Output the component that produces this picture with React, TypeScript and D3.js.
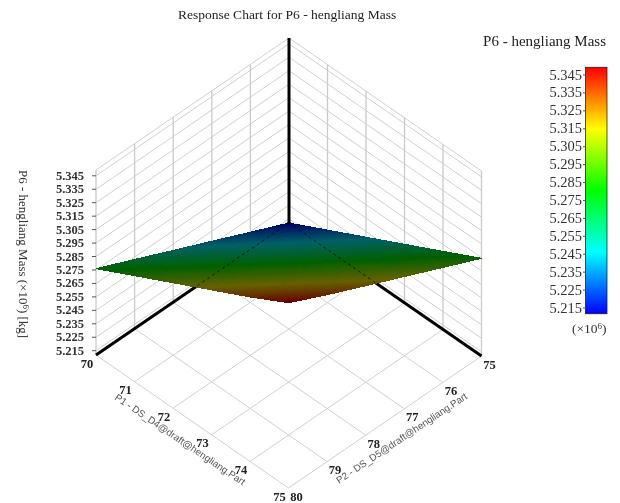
import React, { useEffect, useRef } from 'react'
import * as d3 from 'd3'

const p1Ticks = [70, 71, 72, 73, 74, 75]
const p2Ticks = [75, 76, 77, 78, 79, 80]
const zTicks = [5.215, 5.225, 5.235, 5.245, 5.255, 5.265, 5.275, 5.285, 5.295, 5.305, 5.315, 5.325, 5.335, 5.345]
const zDomain = [5.2118, 5.3493]

// rows = P1 70..75, columns = P2 75..80
const surfaceZ = [
  [5.2118, 5.2246, 5.2375, 5.2503, 5.2632, 5.2760],
  [5.2263, 5.2391, 5.2520, 5.2648, 5.2777, 5.2905],
  [5.2408, 5.2536, 5.2665, 5.2793, 5.2922, 5.3050],
  [5.2553, 5.2681, 5.2810, 5.2938, 5.3067, 5.3195],
  [5.2698, 5.2826, 5.2955, 5.3083, 5.3212, 5.3340],
  [5.2844, 5.2972, 5.3101, 5.3229, 5.3358, 5.3495],
]

const colorStops = [0, 0.25, 0.5, 0.75, 1]
const colorNames = ['#0000ff', '#00ffff', '#00ff00', '#ffff00', '#ff0000']

const titleText = 'Response Chart for P6 - hengliang Mass'
const legendTitle = 'P6 - hengliang Mass'
const p1Label = 'P1 - DS_D4@draft@hengliang.Part'
const p2Label = 'P2 - DS_D5@draft@hengliang.Part'

export default function App() {
  const ref = useRef<SVGSVGElement>(null)

  useEffect(() => {
    const svg = d3.select(ref.current)
    svg.selectAll('*').remove()

    svg.append('defs').append('filter').attr('id', 'soft')
      .attr('filterUnits', 'userSpaceOnUse')
      .attr('x', 0).attr('y', 0).attr('width', 620).attr('height', 503)
      .append('feGaussianBlur').attr('stdDeviation', 0.5)

    const root = svg.append('g').attr('filter', 'url(#soft)')
    const serif = '"Liberation Serif", serif'
    const sans = '"Liberation Sans", sans-serif'

    // Isometric projection
    const originX = 289, originY = 223
    const p1X = d3.scaleLinear().domain([70, 75]).range([0, 192.5])
    const p1Y = d3.scaleLinear().domain([70, 75]).range([0, 133])
    const p2X = d3.scaleLinear().domain([75, 80]).range([0, 193])
    const p2Y = d3.scaleLinear().domain([75, 80]).range([0, 132])
    const zY = d3.scaleLinear().domain(zDomain).range([0, 185])
    const project = (p1: number, p2: number, z: number): [number, number] => [
      originX + p1X(p1) - p2X(p2),
      originY + p1Y(p1) + p2Y(p2) - zY(z),
    ]
    const line = d3.line()

    const [zLo, zHi] = zDomain
    const gridLines: [number, number][][] = []
    const wallVerticals: [number, number][][] = []

    // floor grid
    p1Ticks.forEach(p => gridLines.push([project(p, 75, zLo), project(p, 80, zLo)]))
    p2Ticks.forEach(p => gridLines.push([project(70, p, zLo), project(75, p, zLo)]))
    // left wall (P1 = 70), right wall (P2 = 75)
    p2Ticks.forEach(p => wallVerticals.push([project(70, p, zLo), project(70, p, zHi)]))
    p1Ticks.forEach(p => wallVerticals.push([project(p, 75, zLo), project(p, 75, zHi)]))
    zTicks.concat([zHi]).forEach(z => {
      gridLines.push([project(70, 80, z), project(70, 75, z)])
      gridLines.push([project(75, 75, z), project(70, 75, z)])
    })

    root.append('g').selectAll('path').data(gridLines).join('path')
      .attr('d', d => line(d))
      .attr('fill', 'none')
      .attr('stroke', '#d0d0d0')
      .attr('stroke-width', 1)
    root.append('g').selectAll('path').data(wallVerticals).join('path')
      .attr('d', d => line(d))
      .attr('fill', 'none')
      .attr('stroke', '#cacaca')
      .attr('stroke-width', 1.3)

    // heavy axes, the surface hides their inner part
    const axes: [number, number][][] = [
      [project(70, 75, zLo), project(70, 80, zLo)],
      [project(70, 75, zLo), project(75, 75, zLo)],
    ]
    root.append('g').selectAll('path').data(axes).join('path')
      .attr('d', d => line(d))
      .attr('stroke', '#000')
      .attr('stroke-width', 3)
    root.append('path')
      .attr('d', line([project(70, 75, zLo), project(70, 75, zHi)]))
      .attr('stroke', '#000')
      .attr('stroke-width', 3)

    // Surface: each table cell split up so the colour runs smoothly
    const jet = d3.scaleLinear<string>()
      .domain(colorStops.map(s => zLo + s * (zHi - zLo)))
      .range(colorNames)
      .clamp(true)
    const shade = (z: number) => {
      const c = d3.rgb(jet(z))
      return d3.rgb(c.r * 0.4, c.g * 0.38, c.b * 0.4).formatRgb()
    }
    const steps = 7
    const cells: { pts: [number, number][]; z: number }[] = []
    const zAt = (i: number, j: number, s: number, t: number) =>
      surfaceZ[i][j] * (1 - s) * (1 - t) + surfaceZ[i + 1][j] * s * (1 - t) +
      surfaceZ[i][j + 1] * (1 - s) * t + surfaceZ[i + 1][j + 1] * s * t
    d3.range(p1Ticks.length - 1).forEach(i => {
      d3.range(p2Ticks.length - 1).forEach(j => {
        d3.range(steps).forEach(a => {
          d3.range(steps).forEach(b => {
            const corner = (aa: number, bb: number) => project(
              p1Ticks[i] + aa / steps,
              p2Ticks[j] + bb / steps,
              zAt(i, j, aa / steps, bb / steps)
            )
            cells.push({
              pts: [corner(a, b), corner(a + 1, b), corner(a + 1, b + 1), corner(a, b + 1)],
              z: zAt(i, j, (a + 0.5) / steps, (b + 0.5) / steps),
            })
          })
        })
      })
    })
    root.append('g').attr('shape-rendering', 'crispEdges')
      .selectAll('path').data(cells).join('path')
      .attr('d', d => line(d.pts) + 'Z')
      .attr('fill', d => shade(d.z))
      .attr('stroke', d => shade(d.z))
      .attr('stroke-width', 1)

    // dashed continuation of the axes over the surface
    root.append('g').selectAll('path').data(axes).join('path')
      .attr('d', d => line(d))
      .attr('fill', 'none')
      .attr('stroke', '#000')
      .attr('stroke-width', 0.9)
      .attr('stroke-opacity', 0.75)
      .attr('stroke-dasharray', '3 3')

    // Z ticks
    const zTickG = root.append('g')
    zTicks.forEach(z => {
      const [x, y] = project(70, 80, z)
      zTickG.append('line').attr('x1', x - 4).attr('x2', x).attr('y1', y).attr('y2', y)
        .attr('stroke', '#555').attr('stroke-width', 1)
      zTickG.append('text').attr('x', x - 12).attr('y', y + 4)
        .attr('text-anchor', 'end').attr('font-family', serif).attr('font-size', 12.5)
        .attr('font-weight', 'bold').attr('fill', '#333')
        .text(z.toFixed(3))
    })

    // floor ticks
    const floorLabel = (x: number, y: number, s: number) =>
      root.append('text').attr('x', x).attr('y', y).attr('text-anchor', 'middle')
        .attr('font-family', serif).attr('font-size', 12.5).attr('font-weight', 'bold')
        .attr('fill', '#222').text(s)
    p1Ticks.forEach(p => {
      const [x, y] = project(p, 80, zLo)
      floorLabel(x - 9, y + 12.5, String(p))
    })
    p2Ticks.forEach(p => {
      const [x, y] = project(75, p, zLo)
      floorLabel(x + 8, y + 12.5, String(p))
    })

    // axis names
    root.append('text')
      .attr('transform', 'translate(114,399) rotate(34)')
      .attr('font-family', sans).attr('font-size', 9.8).attr('fill', '#555')
      .text(p1Label)
    root.append('text')
      .attr('transform', 'translate(339,484) rotate(-33.7)')
      .attr('font-family', sans).attr('font-size', 9.8).attr('fill', '#555')
      .text(p2Label)

    const yTitle = root.append('text')
      .attr('transform', 'translate(19,170) rotate(90)')
      .attr('font-family', serif).attr('font-size', 13).attr('fill', '#333')
    yTitle.append('tspan').text('P6 - hengliang Mass (×10')
    yTitle.append('tspan').attr('dy', -4).attr('font-size', 9).text('6')
    yTitle.append('tspan').attr('dy', 4).text(') [kg]')

    root.append('text').attr('x', 178).attr('y', 19)
      .attr('font-family', serif).attr('font-size', 13.5).attr('fill', '#222')
      .text(titleText)
    root.append('text').attr('x', 606).attr('y', 46).attr('text-anchor', 'end')
      .attr('font-family', serif).attr('font-size', 15).attr('fill', '#222')
      .text(legendTitle)

    // Colour bar
    const barY = d3.scaleLinear().domain([5.215, 5.345]).range([308, 75])
    const barTop = barY(zHi), barBottom = barY(zLo)
    const grad = svg.select('defs').append('linearGradient')
      .attr('id', 'jet').attr('x1', 0).attr('x2', 0).attr('y1', 1).attr('y2', 0)
    colorStops.forEach((s, i) => {
      grad.append('stop').attr('offset', s).attr('stop-color', colorNames[i])
    })
    root.append('rect').attr('x', 585.5).attr('y', barTop).attr('width', 21.5)
      .attr('height', barBottom - barTop)
      .attr('fill', 'url(#jet)').attr('stroke', '#222').attr('stroke-width', 0.8)
    zTicks.forEach(z => {
      root.append('line').attr('x1', 583).attr('x2', 585.5).attr('y1', barY(z)).attr('y2', barY(z))
        .attr('stroke', '#555')
      root.append('text').attr('x', 582).attr('y', barY(z) + 4.5).attr('text-anchor', 'end')
        .attr('font-family', serif).attr('font-size', 14.5).attr('fill', '#333')
        .text(z.toFixed(3))
    })
    const mult = root.append('text').attr('x', 572).attr('y', 333)
      .attr('font-family', serif).attr('font-size', 13.5).attr('fill', '#333')
    mult.append('tspan').text('(×10')
    mult.append('tspan').attr('dy', -4).attr('font-size', 9).text('6')
    mult.append('tspan').attr('dy', 4).text(')')
  }, [])

  return (
    <svg
      ref={ref}
      width={620}
      height={503}
      style={{ position: 'absolute', left: 0, top: 0, background: '#fff' }}
    />
  )
}
